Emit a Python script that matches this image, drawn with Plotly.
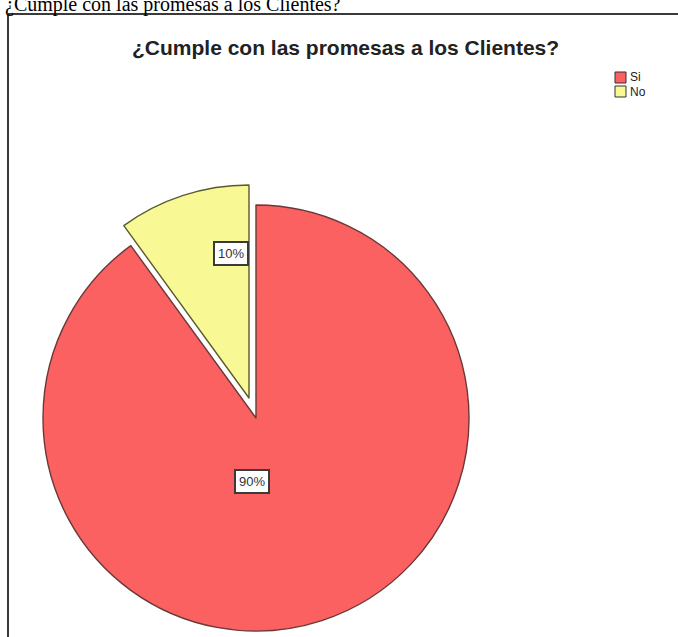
import plotly.graph_objects as go

# Survey answers and their shares
labels = ["Si", "No"]
values = [90, 10]
colors = ["#fc6161", "#f8f894"]
edge_colors = ["#6a3838", "#5a5a30"]

question = "¿Cumple con las promesas a los Clientes?"

W, H = 678, 637


def px_x(x):
    return x / W


def px_y(y):
    return 1 - y / H


fig = go.Figure()

# Main pie (red slice) and a second, offset copy that shows only the exploded slice
cx, cy, r = 256, 418, 213
dx, dy = -7, -20
for offset, visible in (((0, 0), [True, False]), ((dx, dy), [False, True])):
    ox, oy = cx + offset[0], cy + offset[1]
    fig.add_trace(go.Pie(
        labels=labels,
        values=values,
        sort=False,
        direction="clockwise",
        rotation=0,
        marker=dict(
            colors=[c if v else "rgba(0,0,0,0)" for c, v in zip(colors, visible)],
            line=dict(color=[c if v else "rgba(0,0,0,0)" for c, v in zip(edge_colors, visible)],
                      width=[1.4 if v else 0 for v in visible]),
        ),
        textinfo="none",
        hoverinfo="label+percent",
        showlegend=False,
        domain=dict(x=[px_x(ox - r), px_x(ox + r)], y=[px_y(oy + r), px_y(oy - r)]),
    ))

# Percentage labels in boxed tags
total = sum(values)
label_pos = [(252, 494), (213, 254)]
annotations = []
for v, (lx, ly) in zip(values, label_pos):
    annotations.append(dict(
        x=px_x(lx), y=px_y(ly), xref="paper", yref="paper",
        text=f"{round(100 * v / total)}%", showarrow=False,
        font=dict(family="Liberation Sans, Arial", size=13, color="#333333"),
        bgcolor="white", bordercolor="#3a3a3a", borderwidth=2, borderpad=3,
    ))

# Caption above the frame and chart title
annotations.append(dict(
    x=px_x(3), y=px_y(4), xref="paper", yref="paper", xanchor="left", yanchor="middle",
    text=question, showarrow=False,
    font=dict(family="Liberation Serif, Times New Roman", size=20, color="black"),
))
annotations.append(dict(
    x=px_x(345), y=px_y(47), xref="paper", yref="paper", xanchor="center", yanchor="middle",
    text=f"<b>{question}</b>", showarrow=False,
    font=dict(family="Liberation Sans, Arial", size=21, color="#222222"),
))

# Legend entries
shapes = []
leg_x, leg_y0, leg_step, sq = 615, 72, 14, 11
for i, (lab, c, ec) in enumerate(zip(labels, colors, edge_colors)):
    y0 = leg_y0 + i * leg_step
    shapes.append(dict(type="rect", xref="paper", yref="paper",
                       x0=px_x(leg_x), x1=px_x(leg_x + sq), y0=px_y(y0 + sq), y1=px_y(y0),
                       fillcolor=c, line=dict(color="#333333", width=1)))
    annotations.append(dict(
        x=px_x(leg_x + sq + 2), y=px_y(y0 + sq / 2), xref="paper", yref="paper",
        xanchor="left", yanchor="middle", text=lab, showarrow=False,
        font=dict(family="Liberation Sans, Arial", size=12, color="#222222"),
    ))

# Frame around the chart
shapes.append(dict(type="line", xref="paper", yref="paper",
                   x0=px_x(8), x1=1, y0=px_y(14), y1=px_y(14),
                   line=dict(color="#3a3a3a", width=2)))
shapes.append(dict(type="line", xref="paper", yref="paper",
                   x0=px_x(8), x1=px_x(8), y0=px_y(14), y1=0,
                   line=dict(color="#3a3a3a", width=2)))

fig.update_layout(
    width=W, height=H,
    margin=dict(l=0, r=0, t=0, b=0),
    paper_bgcolor="white",
    plot_bgcolor="white",
    annotations=annotations,
    shapes=shapes,
)

fig.write_html("out.html")
